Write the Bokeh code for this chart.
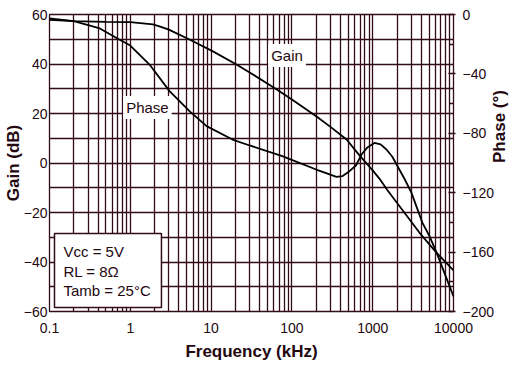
from bokeh.plotting import figure
from bokeh.models import (Range1d, LinearAxis, FixedTicker, BoxAnnotation, Label)
from bokeh.embed import file_html
from bokeh.resources import INLINE
import math

# ---- data ----
gain_freq = [0.1, 0.2, 0.5, 1.0, 1.9, 2.4, 3.0, 5.4, 10.4, 20.6, 30, 65, 100, 200, 300, 475, 690, 1000, 1210, 1500, 2150, 3800, 6150, 10000]
gain_db = [57.8, 57.3, 57.0, 56.9, 56.0, 55.0, 53.9, 49.9, 45.2, 39.8, 36.6, 29.7, 25.7, 18.9, 14.6, 9.5, 3.0, -3.0, -6.3, -10.7, -17.5, -28.2, -36.2, -43.4]

phase_freq = [0.1, 0.2, 0.42, 0.73, 1.0, 1.73, 3.06, 5.4, 8.8, 18.4, 30, 76, 200, 260, 356, 420, 516, 620, 727, 850, 1050, 1250, 1480, 1750, 2030, 2500, 3020, 4130, 5000, 6170, 8000, 10000]
phase_deg = [-2.7, -4.4, -9.4, -16.8, -20.9, -33.7, -51.6, -65.1, -75.2, -84.2, -88.2, -95.4, -104.4, -106.6, -109.3, -108.9, -105.5, -101.7, -94.3, -89.8, -86.5, -87.5, -90.9, -95.8, -102.2, -111.1, -120.1, -140.3, -148.8, -160.3, -176.2, -189.9]

x_ticks = [0.1, 1, 10, 100, 1000, 10000]
x_tick_labels = ["0.1", "1", "10", "100", "1000", "10000"]
gain_ticks = [-60, -40, -20, 0, 20, 40, 60]
gain_grid = [-50, -40, -30, -20, -10, 0, 10, 20, 30, 40, 50]
phase_ticks = [0, -40, -80, -120, -160, -200]
phase_minor = [-20, -60, -100, -140, -180]

conditions = ["Vcc = 5V", "RL = 8\u03a9", "Tamb = 25\u00b0C"]

# annotation anchors (data coords)
gain_label_pos = (87, 43.4)
phase_label_pos = (1.63, 22.4)
box_lrtb = (0.1153, 2.43, -28.5, -58.4)
cond_x = 0.149
cond_y = [-35.8, -43.8, -51.5]

GRID = "#320b19"
TEXT = "#240810"
FONT = "Liberation Sans"

x_minor = [m * 10.0 ** e for e in range(-1, 4) for m in range(1, 10)] + [10000]

p = figure(frame_width=404, frame_height=297, x_axis_type="log",
           x_range=Range1d(0.1, 10000), y_range=Range1d(-60, 60),
           output_backend="svg", toolbar_location=None,
           min_border_left=42, min_border_right=50, min_border_top=14, min_border_bottom=40)
p.extra_y_ranges = {"phase": Range1d(-200, 0)}

p.outline_line_color = GRID
p.outline_line_width = 1.3
p.background_fill_color = "white"

p.xgrid.ticker = FixedTicker(ticks=x_minor)
p.ygrid.ticker = FixedTicker(ticks=gain_grid)
for g in (p.xgrid, p.ygrid):
    g.grid_line_color = GRID
    g.grid_line_width = 1.3
    g.grid_line_alpha = 1.0

xa = p.xaxis[0]
xa.ticker = FixedTicker(ticks=x_ticks)
xa.major_label_overrides = {t: l for t, l in zip(x_ticks, x_tick_labels)}
xa.axis_label = "Frequency (kHz)"

ya = p.yaxis[0]
ya.ticker = FixedTicker(ticks=gain_ticks)
ya.axis_label = "Gain (dB)"

ra = LinearAxis(y_range_name="phase", axis_label="Phase (\u00b0)",
                ticker=FixedTicker(ticks=phase_ticks, minor_ticks=phase_minor))
p.add_layout(ra, "right")

for ax in (xa, ya, ra):
    ax.axis_line_color = None
    ax.major_tick_line_color = GRID
    ax.minor_tick_line_color = GRID
    ax.major_label_text_font = FONT
    ax.major_label_text_font_size = "14px"
    ax.major_label_text_color = TEXT
    ax.axis_label_text_font = FONT
    ax.axis_label_text_font_size = "17px"
    ax.axis_label_text_font_style = "bold"
    ax.axis_label_text_color = TEXT

for ax in (xa, ya):
    ax.major_tick_out = 0
    ax.major_tick_in = 0
    ax.minor_tick_out = 0
    ax.minor_tick_in = 0

xa.major_label_standoff = 11
xa.axis_label_standoff = 6
ya.major_label_standoff = 2
ya.axis_label_standoff = -2
ra.major_tick_in = 5
ra.major_tick_out = 2
ra.minor_tick_in = 4
ra.minor_tick_out = 0
ra.major_tick_line_width = 1.3
ra.minor_tick_line_width = 1.3
ra.major_label_standoff = 7
ra.axis_label_standoff = 2
ra.axis_label_orientation = math.pi / 2

p.line(gain_freq, gain_db, line_color="black", line_width=1.8)
p.line(phase_freq, phase_deg, y_range_name="phase", line_color="black", line_width=1.8)

for txt, (lx, ly) in (("Gain", gain_label_pos), ("Phase", phase_label_pos)):
    p.add_layout(Label(x=lx, y=ly, text=txt, text_align="center", text_baseline="middle",
                       text_font=FONT, text_font_size="15px", text_color=TEXT,
                       background_fill_color="white", background_fill_alpha=1.0,
                       padding=3))

l, r, t, b = box_lrtb
p.add_layout(BoxAnnotation(left=l, right=r, top=t, bottom=b, fill_color="white", fill_alpha=1.0,
                           line_color=GRID, line_width=1.5, line_alpha=1.0))
for txt, cy in zip(conditions, cond_y):
    p.add_layout(Label(x=cond_x, y=cy, text=txt, text_align="left", text_baseline="middle",
                       text_font=FONT, text_font_size="15px", text_color=TEXT))

open("out.html", "w").write(file_html(p, INLINE))
